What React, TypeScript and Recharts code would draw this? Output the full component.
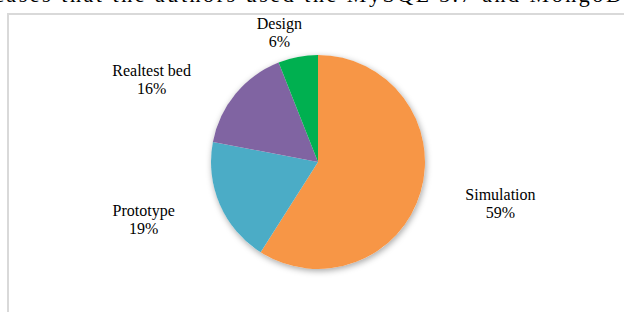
import { PieChart, Pie, Cell } from "recharts";

const categories = ["Simulation", "Prototype", "Realtest bed", "Design"];
const shares = [59, 19, 16, 6];
const colors = ["#F79646", "#4BACC6", "#8064A2", "#00B050"];

const data = categories.map((name, i) => ({ name, value: shares[i] }));
const total = [{ name: "all", value: shares.reduce((a, b) => a + b, 0) }];

const RADIAN = Math.PI / 180;
const labelShiftX = [0, 0, -20, -3];

const renderLabel = ({ cx, cy, midAngle, index }: any) => {
  const x = cx + 190 * Math.cos(-midAngle * RADIAN) + labelShiftX[index];
  const y = cy + 135 * Math.sin(-midAngle * RADIAN);
  return (
    <text
      x={x}
      y={y}
      textAnchor="middle"
      fill="#000"
      fontFamily="'Liberation Serif', 'Times New Roman', serif"
      fontSize={16}
    >
      <tspan x={x} dy={0}>
        {categories[index]}
      </tspan>
      <tspan x={x} dy={18}>
        {shares[index]}%
      </tspan>
    </text>
  );
};

const App = () => {
  return (
    <div
      style={{
        position: "absolute",
        left: 0,
        top: 0,
        width: 624,
        height: 312,
        overflow: "hidden",
        background: "#fff",
      }}
    >
      <svg
        width={624}
        height={12}
        style={{ position: "absolute", left: 0, top: 0 }}
      >
        <text
          x={-6}
          y={2}
          fontFamily="'Liberation Serif', serif"
          fontSize={22}
          textLength={645}
          lengthAdjust="spacing"
        >
          cases that the authors used the MySQL 5.7 and MongoDB
        </text>
      </svg>
      <div
        style={{
          position: "absolute",
          left: 7,
          top: 13,
          width: 700,
          height: 400,
          borderLeft: "2px solid #d9d9d9",
          borderTop: "2px solid #d9d9d9",
        }}
      />
      <div style={{ position: "absolute", left: 0, top: 0 }}>
        <PieChart
          width={624}
          height={312}
          margin={{ top: 0, right: 0, bottom: 0, left: 0 }}
        >
          <Pie
            data={total}
            dataKey="value"
            cx={318}
            cy={162}
            outerRadius={107}
            stroke="none"
            fill="#ffffff"
            style={{ filter: "drop-shadow(1px 2px 3px rgba(0,0,0,0.35))" }}
            isAnimationActive={false}
            label={false}
            labelLine={false}
          />
          <Pie
            data={data}
            dataKey="value"
            nameKey="name"
            cx={318}
            cy={162}
            outerRadius={107}
            startAngle={90}
            endAngle={-270}
            stroke="none"
            label={renderLabel}
            labelLine={false}
            isAnimationActive={false}
          >
            {data.map((d, i) => (
              <Cell key={d.name} fill={colors[i]} />
            ))}
          </Pie>
        </PieChart>
      </div>
    </div>
  );
};

export default App;
